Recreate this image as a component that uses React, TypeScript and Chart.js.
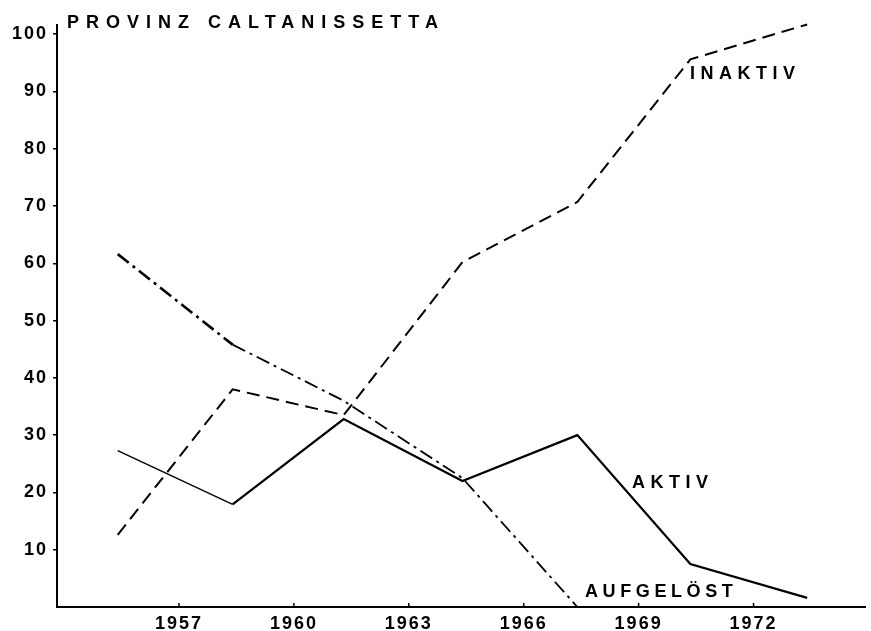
import React, { useEffect, useRef } from "react";
import { Chart, registerables } from "chart.js";

Chart.register(...registerables);

const TITLE = "PROVINZ CALTANISSETTA";
const YEARS = [1955.4, 1958.4, 1961.3, 1964.4, 1967.4, 1970.35, 1973.4];
const AKTIV = [27.3, 17.9, 32.8, 22.0, 30.0, 7.5, 1.6];
const INAKTIV = [12.6, 38.0, 33.5, 60.2, 70.7, 95.6, 101.7];
const AUFGELOEST = [61.6, 45.8, 36.0, 22.5, 0, 0, 0];
const X_TICKS = [1957, 1960, 1963, 1966, 1969, 1972];
const Y_TICKS = [10, 20, 30, 40, 50, 60, 70, 80, 90, 100];

const LABELS = ["INAKTIV", "AKTIV", "AUFGELÖST"];

const FONT = "'Liberation Sans', Arial, sans-serif";

const toPts = (ys: number[]) => YEARS.map((x, i) => ({ x, y: ys[i] }));

export default function App() {
  const ref = useRef<HTMLCanvasElement | null>(null);

  useEffect(() => {
    if (!ref.current) return;

    const spacingPlugin = {
      id: "spacing",
      beforeDraw(chart: any) {
        (chart.ctx as any).letterSpacing = "2px";
      },
      afterDraw(chart: any) {
        const ctx = chart.ctx as any;
        const xs = chart.scales.x;
        const ys = chart.scales.y;
        ctx.save();
        ctx.letterSpacing = "0px";
        // small tick marks above x-axis
        ctx.strokeStyle = "#000";
        ctx.lineWidth = 1.5;
        X_TICKS.forEach((t) => {
          const px = xs.getPixelForValue(t);
          ctx.beginPath();
          ctx.moveTo(px, ys.bottom);
          ctx.lineTo(px, ys.bottom - 4);
          ctx.stroke();
        });
        ctx.fillStyle = "#000";
        ctx.textBaseline = "alphabetic";
        ctx.textAlign = "left";
        // title
        ctx.font = `bold 18px ${FONT}`;
        ctx.letterSpacing = "7px";
        ctx.fillText(TITLE, 67, 28);
        // series labels (placed near their lines)
        ctx.font = `bold 18px ${FONT}`;
        const a = chart.chartArea;
        const anchors = [
          { x: a.left + 633, y: 79 },
          { x: a.left + 575, y: 488 },
          { x: a.left + 528, y: 597 },
        ];
        LABELS.forEach((t, i) => {
          ctx.letterSpacing = i === 2 ? "4.6px" : "5.5px";
          ctx.fillText(t, anchors[i].x, anchors[i].y);
        });
        ctx.restore();
      },
    };

    const chart = new Chart(ref.current, {
      type: "line",
      data: {
        datasets: [
          {
            label: "AKTIV",
            data: toPts(AKTIV),
            borderColor: "#000",
            borderWidth: 2,
            pointRadius: 0,
            segment: {
              borderWidth: (c: any) => (c.p0DataIndex === 0 ? 1.4 : 2.2),
            },
          },
          {
            label: "INAKTIV",
            data: toPts(INAKTIV),
            borderColor: "#000",
            borderWidth: 2,
            borderDash: [13, 7],
            pointRadius: 0,
          },
          {
            label: "AUFGELÖST",
            data: toPts(AUFGELOEST),
            borderColor: "#000",
            borderWidth: 2,
            borderDash: [14, 5, 3, 5],
            pointRadius: 0,
            segment: {
              borderWidth: (c: any) => (c.p0DataIndex === 0 ? 2.6 : 1.8),
            },
          },
        ],
      },
      options: {
        animation: false,
        responsive: false,
        clip: false as any,
        layout: { padding: { left: 0, top: 25, right: 6, bottom: 0 } },
        plugins: {
          legend: { display: false },
          tooltip: { enabled: false },
          title: { display: false },
        },
        scales: {
          x: {
            type: "linear",
            min: 1953.815,
            max: 1974.91,
            afterBuildTicks: (s: any) => {
              s.ticks = X_TICKS.map((v) => ({ value: v }));
            },
            afterFit: (s: any) => {
              s.height = 24;
            },
            border: { display: true, color: "#000", width: 2 },
            grid: { display: false, drawOnChartArea: false },
            ticks: {
              color: "#000",
              padding: -2,
              maxRotation: 0,
              autoSkip: false,
              font: { family: FONT, size: 18, weight: "bold" },
              callback: (v: any) => String(v),
            },
          },
          y: {
            type: "linear",
            min: 0,
            max: 101.6,
            afterBuildTicks: (s: any) => {
              s.ticks = Y_TICKS.map((v) => ({ value: v }));
            },
            afterFit: (s: any) => {
              s.width = 57;
            },
            border: { display: true, color: "#000", width: 2 },
            grid: {
              display: true,
              drawOnChartArea: false,
              drawTicks: true,
              tickLength: 4,
              color: "#000",
              lineWidth: 1.5,
            },
            ticks: {
              color: "#000",
              padding: 5,
              autoSkip: false,
              font: { family: FONT, size: 18, weight: "bold" },
              callback: (v: any) => String(v),
            },
          },
        },
      },
      plugins: [spacingPlugin],
    } as any);

    return () => chart.destroy();
  }, []);

  return (
    <div style={{ position: "absolute", left: 0, top: 0, width: 871, height: 631, background: "#fff" }}>
      <canvas ref={ref} width={871} height={631} style={{ display: "block" }} />
    </div>
  );
}
